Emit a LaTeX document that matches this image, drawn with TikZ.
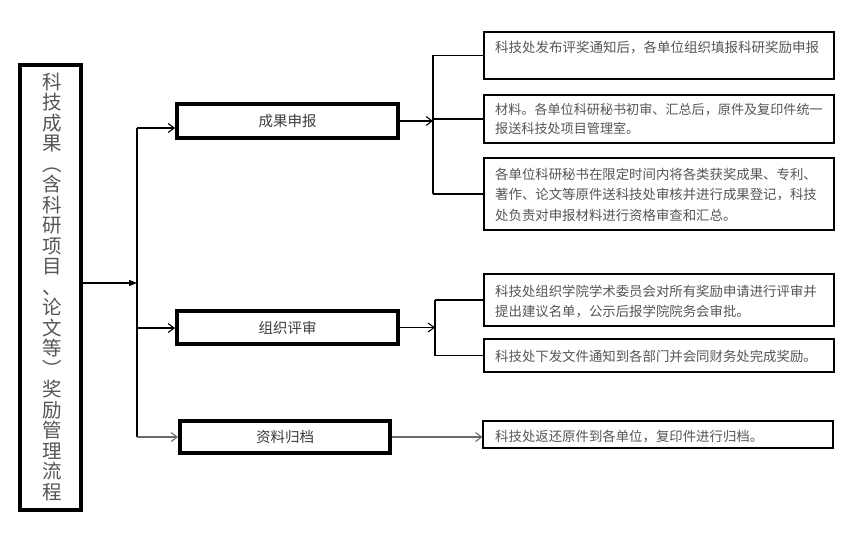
\documentclass[tikz,border=0pt]{standalone}
\usepackage{fontspec}
\setmainfont{Noto Sans CJK SC}
\usetikzlibrary{arrows.meta,calc}
\definecolor{txtgray}{RGB}{85,85,85}
\definecolor{maingray}{RGB}{60,60,60}
\definecolor{linegray}{RGB}{105,105,105}
\begin{document}
\begin{tikzpicture}[x=1pt,y=-1pt,
  thickbox/.style={draw=black,line width=4pt,inner sep=0pt},
  thinbox/.style={draw=black,line width=1.1pt,inner sep=0pt,minimum width=350pt},
  maintxt/.style={text=maingray,font=\fontsize{14.5}{16}\selectfont},
  desc/.style={text=txtgray,align=left,anchor=west,inner sep=0pt},
  conn/.style={line width=1.1pt},
  openarrow/.style={-{Straight Barb[length=6pt,width=9pt]}},
  fillarrow/.style={-{Triangle[length=8pt,width=6pt]}}
]
\useasboundingbox (0,0) rectangle (860,543);

% left title box
\node[thickbox,minimum width=61pt,minimum height=445pt] (lb) at (50.5,287.5) {};
\node[text=txtgray,font=\fontsize{19.5}{20.5}\selectfont,align=center,inner sep=0pt] (lbt) at (52,287)
  {科\\技\\成\\果\\︵\\含\\科\\研\\项\\目\\、\\论\\文\\等\\︶\\奖\\励\\管\\理\\流\\程};

% main step boxes
\node[thickbox,maintxt,minimum width=221pt,minimum height=34pt] (m1) at (287.5,121) {成果申报};
\node[thickbox,maintxt,minimum width=221pt,minimum height=33pt] (m2) at (287.5,327.5) {组织评审};
\node[thickbox,maintxt,minimum width=210pt,minimum height=32pt] (m3) at (285,437) {资料归档};

% right description boxes
\node[thinbox,minimum height=47pt] (b1) at (659,55.5) {};
\node[thinbox,minimum height=48pt] (b2) at (659,119) {};
\node[thinbox,minimum height=72pt] (b3) at (659,194) {};
\node[thinbox,minimum height=52pt] (b4) at (659,300) {};
\node[thinbox,minimum height=33pt] (b5) at (659,355.5) {};
\node[thinbox,minimum height=27pt] (b6) at (658,434.5) {};

\node[desc,font=\fontsize{13.5}{18.5}\selectfont] (t1) at (495,47) {科技处发布评奖通知后，各单位组织填报科研奖励申报};
\node[desc,font=\fontsize{13.1}{18.5}\selectfont] (t2) at (495,119) {材料。各单位科研秘书初审、汇总后，原件及复印件统一\\报送科技处项目管理室。};
\node[desc,font=\fontsize{13.4}{20.5}\selectfont] (t3) at (495,194.5) {各单位科研秘书在限定时间内将各类获奖成果、专利、\\著作、论文等原件送科技处审核并进行成果登记，科技\\处负责对申报材料进行资格审查和汇总。};
\node[desc,font=\fontsize{13.4}{20}\selectfont] (t4) at (495,302) {科技处组织学院学术委员会对所有奖励申请进行评审并\\提出建议名单，公示后报学院院务会审批。};
\node[desc,font=\fontsize{13.4}{20}\selectfont] (t5) at (495,356) {科技处下发文件通知到各部门并会同财务处完成奖励。};
\node[desc,font=\fontsize{13.4}{20}\selectfont] (t6) at (495,437) {科技处返还原件到各单位，复印件进行归档。};

% trunk
\coordinate (tk1) at (137,128);
\coordinate (tkm) at (137,283);
\coordinate (tk2) at (137,328);
\coordinate (tk3) at (137,437);
\draw[conn] (tk1) -- (tk3);
\draw[conn,fillarrow] (lb.east |- tkm) -- (tkm);
\draw[conn,openarrow] (tk1) -- (tk1 -| m1.west);
\draw[conn,openarrow] (tk2) -- (tk2 -| m2.west);
\draw[conn,openarrow,draw=linegray] (tk3) -- (tk3 -| m3.west);

% bracket 1
\coordinate (br1) at (433,121);
\draw[conn,openarrow] (m1.east) -- (br1);
\draw[line width=1.6pt] (b1.west -| br1) -- (b3.west -| br1);
\draw[conn] (b1.west -| br1) -- (b1.west);
\draw[conn] (b2.west -| br1) -- (b2.west);
\draw[conn] (b3.west -| br1) -- (b3.west);

% bracket 2
\coordinate (br2) at (435,327.5);
\draw[conn,openarrow] (m2.east) -- (br2);
\draw[line width=1.6pt] (b4.west -| br2) -- (b5.west -| br2);
\draw[conn] (b4.west -| br2) -- (b4.west);
\draw[conn] (b5.west -| br2) -- (b5.west);

% archive
\draw[conn,openarrow,draw=linegray] (m3.east) -- (m3.east -| b6.west);
\end{tikzpicture}
\end{document}
